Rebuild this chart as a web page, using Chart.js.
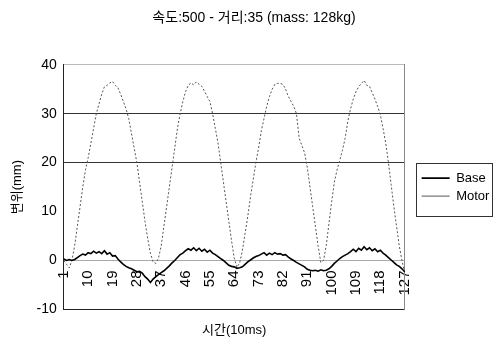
<!DOCTYPE html>
<html>
<head>
<meta charset="utf-8">
<script src="https://cdn.jsdelivr.net/npm/chart.js@4"></script>
<style>
  html, body { margin: 0; padding: 0; background: #fff; }
</style>
</head>
<body>
<canvas id="myChart" width="493" height="353"></canvas>
<script>
// categories 1..127 (10 ms steps)
const times = Array.from({ length: 127 }, (_, i) => String(i + 1));

const base = [
    0.3, 0, 0.2, 0, 0.2, 0.6, 1.0, 1.3, 1.1, 1.6,
    1.4, 1.9, 1.5, 1.8, 1.4, 2.0, 1.3, 1.6, 0.9, 1.0,
    0.3, -0.3, -0.8, -1.2, -1.5, -1.7, -2.0, -2.3, -2.2, -2.6,
    -3.3, -3.8, -4.5, -3.8, -3.3, -2.9, -2.5, -2.1, -1.6, -1.1,
    -0.5, 0, 0.6, 1.2, 1.5, 2.0, 2.4, 2.1, 2.6, 2.0,
    2.5, 1.9, 2.3, 1.7, 2.1, 1.5, 1.2, 0.8, 0.4, 0,
    -0.5, -1.0, -1.2, -1.3, -1.6, -1.5, -1.3, -0.8, -0.3, 0.1,
    0.5, 0.8, 1.0, 1.3, 1.6, 1.1, 1.5, 1.2, 1.6, 1.3,
    1.4, 1.1, 1.2, 0.7, 0.3, 0, -0.4, -0.7, -1.0, -1.3,
    -1.8, -2.0, -2.1, -2.0, -2.2, -1.9, -2.1, -2.0, -1.7, -1.2,
    -0.6, -0.1, 0.4, 0.8, 1.1, 1.4, 1.8, 2.3, 1.8, 2.5,
    2.1, 2.8, 2.2, 2.6, 2.0, 2.4, 1.8, 2.1, 1.5, 1.1,
    0.6, 0.1, -0.4, -0.9, -1.2, -1.7, -2.3
];

const motor = [
    0, -0.8, -1.5, 0, 3, 7, 11, 15, 18.5, 21,
    24, 27, 30, 32, 34, 35.5, 35.8, 36.3, 36.6, 35.8,
    35.3, 34, 32.5, 31, 29, 26, 23, 20, 16, 12,
    8, 4.5, 1.5, -0.3, -0.6, 0.5, 3, 7, 11, 15,
    19, 23, 27, 30, 32.5, 34.5, 35.8, 36.3, 35.9, 36.5,
    36, 35.6, 34.6, 33.5, 32.5, 30, 27, 24, 20, 16,
    12, 8, 4, 0.5, -1.4, -0.5, 2, 5.5, 9, 13,
    16.5, 20, 23, 26.5, 29, 31.5, 33.5, 35, 36, 36.2,
    36.2, 36, 35, 33.5, 32.5, 31.5, 30, 25, 23.5, 22,
    19, 15, 11, 7, 3, -0.4, 0, 3, 7.5, 12,
    16, 18.5, 20.5, 22.5, 25, 28.5, 31, 33, 34.5, 35.5,
    36.2, 36.8, 35.8, 35.6, 34.3, 33, 31.5, 29.8, 27, 24,
    20, 15.5, 11, 7, 3, 0, -2.5
];

const yTicks = [-10, 0, 10, 20, 30, 40];
const gridColors = { '-10': '#222', '0': '#aaa', '10': 'rgba(0,0,0,0)', '20': '#333', '30': '#333', '40': '#bbb' };

const FONT = '"Liberation Sans", "Noto Sans CJK KR", sans-serif';

// box round the legend
const legendBox = {
    id: 'legendBox',
    afterDraw(chart) {
        const boxes = chart.legend.legendHitBoxes;
        if (!boxes || !boxes.length) return;
        const { ctx } = chart;
        const l = Math.min(...boxes.map(b => b.left)) - 6;
        const t = Math.min(...boxes.map(b => b.top)) - 9;
        const b = Math.max(...boxes.map(b => b.top + b.height)) + 13;
        ctx.save();
        ctx.strokeStyle = '#333';
        ctx.lineWidth = 1;
        ctx.strokeRect(Math.round(l) + 0.5, Math.round(t) + 0.5, 492 - Math.round(l), Math.round(b - t));
        ctx.restore();
    }
};

const ctx = document.getElementById('myChart').getContext('2d');
const myChart = new Chart(ctx, {
    type: 'line',
    data: {
        labels: times,
        datasets: [{
            label: 'Base',
            data: base,
            borderColor: '#000',
            borderWidth: 1.6,
            pointRadius: 0,
            tension: 0,
            fill: false
        }, {
            label: 'Motor',
            data: motor,
            borderColor: '#555',
            borderWidth: 1,
            borderDash: [2, 2],
            pointRadius: 0,
            tension: 0,
            fill: false
        }]
    },
    options: {
        responsive: false,
        animation: false,
        layout: { padding: { left: 10, right: -5, top: 0, bottom: 0 } },
        scales: {
            x: {
                position: { y: 0 },
                offset: false,
                grid: { display: false, drawTicks: false },
                border: { display: true, color: '#aaa', width: 1 },
                ticks: {
                    autoSkip: false,
                    minRotation: 90,
                    maxRotation: 90,
                    padding: 10,
                    color: '#000',
                    font: { family: FONT, size: 15 },
                    callback: (v, i) => (i % 9 === 0 ? times[i] : '')
                }
            },
            y: {
                min: -10,
                max: 40,
                afterBuildTicks: (scale) => { scale.ticks = yTicks.map(v => ({ value: v })); },
                grid: {
                    drawTicks: false,
                    color: (c) => gridColors[String(c.tick.value)] || 'rgba(0,0,0,0)',
                    lineWidth: 1
                },
                border: { display: true, color: '#222', width: 1 },
                ticks: {
                    padding: 7,
                    color: '#000',
                    font: { family: FONT, size: 14 }
                },
                title: {
                    display: true,
                    text: '변위(mm)',
                    color: '#000',
                    padding: { top: 0, bottom: 4 },
                    font: { family: FONT, size: 13 }
                }
            },
            // right frame of the plot, also keeps a gap before the legend
            y2: {
                position: 'right',
                display: true,
                grid: { display: false, drawTicks: false },
                ticks: { display: false },
                border: { display: true, color: '#888', width: 1 },
                afterFit: (scale) => { scale.width = 12; }
            }
        },
        plugins: {
            title: {
                display: true,
                text: '속도:500 - 거리:35 (mass: 128kg)',
                color: '#000',
                padding: { top: 10, bottom: 38 },
                font: { family: FONT, size: 14, weight: 'normal' }
            },
            subtitle: {
                display: true,
                position: 'bottom',
                fullSize: false,
                text: '시간(10ms)',
                color: '#000',
                padding: { top: 13, bottom: 15 },
                font: { family: FONT, size: 13 }
            },
            legend: {
                position: 'right',
                fullSize: false,
                labels: {
                    usePointStyle: true,
                    pointStyle: 'line',
                    pointStyleWidth: 28,
                    padding: 5,
                    color: '#000',
                    font: { family: FONT, size: 13 }
                }
            },
            tooltip: { enabled: false }
        }
    },
    plugins: [legendBox]
});
</script>
</body>
</html>
